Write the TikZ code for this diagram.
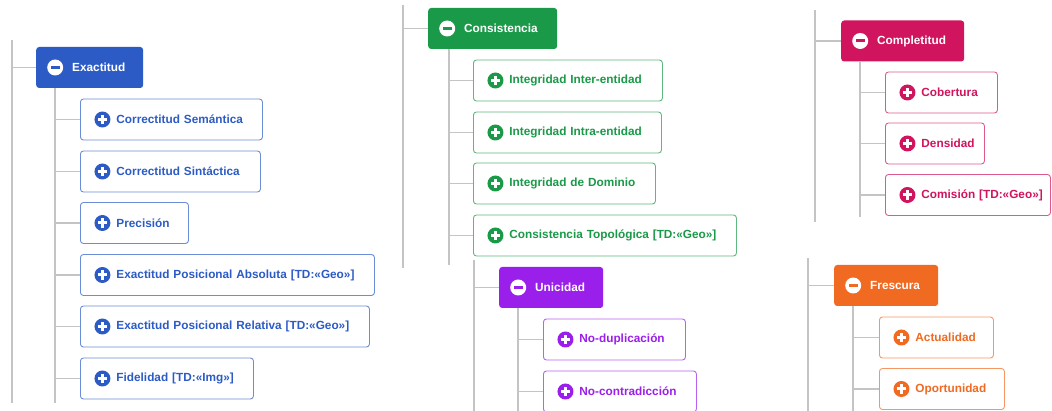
\documentclass[tikz,border=0pt]{standalone}
\usepackage{fontspec}
\setmainfont{Liberation Sans}
\usetikzlibrary{calc}
\definecolor{cB}{HTML}{2C5BC6}
\definecolor{cG}{HTML}{1A9A48}
\definecolor{cP}{HTML}{9B1FEA}
\definecolor{cM}{HTML}{D0145E}
\definecolor{cO}{HTML}{F06A22}
\definecolor{lineg}{HTML}{C4C4C4}
\tikzset{
  conn/.style={draw=lineg, line width=1.4pt},
  bw/.style={text width=#1},
  basebox/.style={rectangle, rounded corners=3pt, inner xsep=0pt, inner ysep=0pt,
    minimum height=41pt, align=left, anchor=west,
    font=\bfseries\fontsize{11.8}{14}\selectfont,
    execute at begin node={\hspace*{36pt}}},
  hdr/.style={basebox, fill=#1, text=white,
    path picture={
      \fill[white] ([xshift=19pt]path picture bounding box.west) circle (8pt);
      \fill[#1, sharp corners] ([xshift=14.5pt,yshift=-1.5pt]path picture bounding box.west)
        rectangle ([xshift=23.5pt,yshift=1.5pt]path picture bounding box.west);}},
  ch/.style={basebox, draw=#1!70, line width=0.9pt, fill=white, text=#1,
    path picture={
      \fill[#1] ([xshift=22pt]path picture bounding box.west) circle (8pt);
      \fill[white, sharp corners] ([xshift=17.3pt,yshift=-1.5pt]path picture bounding box.west)
        rectangle ([xshift=26.7pt,yshift=1.5pt]path picture bounding box.west);
      \fill[white, sharp corners] ([xshift=20.5pt,yshift=-4.7pt]path picture bounding box.west)
        rectangle ([xshift=23.5pt,yshift=4.7pt]path picture bounding box.west);}}
}
\begin{document}
\begin{tikzpicture}[x=1pt,y=-1pt]
\useasboundingbox (0,0) rectangle (1052,411);

% ---------------- Exactitud (blue)
\node[hdr=cB, bw=107pt] (hB) at (36,67.5) {Exactitud};
\node[ch=cB, bw=182pt] (b1) at (80,119.5) {Correctitud Semántica};
\node[ch=cB, bw=180pt] (b2) at (80,171.5) {Correctitud Sintáctica};
\node[ch=cB, bw=108pt] (b3) at (80,223) {Precisión};
\node[ch=cB, bw=294pt] (b4) at (80,275) {Exactitud Posicional Absoluta [TD:«Geo»]};
\node[ch=cB, bw=289pt] (b5) at (80,326.5) {Exactitud Posicional Relativa [TD:«Geo»]};
\node[ch=cB, bw=173pt] (b6) at (80,378.5) {Fidelidad [TD:«Img»]};
\coordinate (tB1) at (12,40);
\coordinate (tB2) at (12,403);
\coordinate (cB2) at (55,403);
\draw[conn] (tB1) -- (tB2);
\draw[conn] (hB.west -| tB1) -- (hB.west);
\draw[conn] (hB.south -| cB2) -- (cB2);
\foreach \n in {b1,b2,b3,b4,b5,b6} \draw[conn] (\n.west -| cB2) -- (\n.west);

% ---------------- Consistencia (green)
\node[hdr=cG, bw=129pt] (hG) at (428,28.5) {Consistencia};
\node[ch=cG, bw=189pt] (g1) at (473,80.5) {Integridad Inter-entidad};
\node[ch=cG, bw=188pt] (g2) at (473,132.5) {Integridad Intra-entidad};
\node[ch=cG, bw=182pt] (g3) at (473,183.5) {Integridad de Dominio};
\node[ch=cG, bw=263pt] (g4) at (473,235.5) {Consistencia Topológica [TD:«Geo»]};
\coordinate (tG1) at (403,5);
\coordinate (tG2) at (403,268);
\coordinate (cG2) at (449,265);
\draw[conn] (tG1) -- (tG2);
\draw[conn] (hG.west -| tG1) -- (hG.west);
\draw[conn] (hG.south -| cG2) -- (cG2);
\foreach \n in {g1,g2,g3,g4} \draw[conn] (\n.west -| cG2) -- (\n.west);

% ---------------- Unicidad (purple)
\node[hdr=cP, bw=104pt] (hP) at (499,287.5) {Unicidad};
\node[ch=cP, bw=142pt] (p1) at (543,339.5) {No-duplicación};
\node[ch=cP, bw=153pt] (p2) at (543,391.5) {No-contradicción};
\coordinate (tP1) at (474,260);
\coordinate (tP2) at (474,411);
\coordinate (cP2) at (518,411);
\draw[conn] (tP1) -- (tP2);
\draw[conn] (hP.west -| tP1) -- (hP.west);
\draw[conn] (hP.south -| cP2) -- (cP2);
\foreach \n in {p1,p2} \draw[conn] (\n.west -| cP2) -- (\n.west);

% ---------------- Completitud (magenta)
\node[hdr=cM, bw=123pt] (hM) at (841,41) {Completitud};
\node[ch=cM, bw=112pt] (m1) at (885,92.5) {Cobertura};
\node[ch=cM, bw=99pt] (m2) at (885,143.5) {Densidad};
\node[ch=cM, bw=165pt] (m3) at (885,195) {Comisión [TD:«Geo»]};
\coordinate (tM1) at (815,10);
\coordinate (tM2) at (815,222);
\coordinate (cM2) at (860,217);
\draw[conn] (tM1) -- (tM2);
\draw[conn] (hM.west -| tM1) -- (hM.west);
\draw[conn] (hM.south -| cM2) -- (cM2);
\foreach \n in {m1,m2,m3} \draw[conn] (\n.west -| cM2) -- (\n.west);

% ---------------- Frescura (orange)
\node[hdr=cO, bw=104pt] (hO) at (834,285.5) {Frescura};
\node[ch=cO, bw=114pt] (o1) at (879,337.5) {Actualidad};
\node[ch=cO, bw=125pt] (o2) at (879,389) {Oportunidad};
\coordinate (tO1) at (808,258);
\coordinate (tO2) at (808,411);
\coordinate (cO2) at (853,411);
\draw[conn] (tO1) -- (tO2);
\draw[conn] (hO.west -| tO1) -- (hO.west);
\draw[conn] (hO.south -| cO2) -- (cO2);
\foreach \n in {o1,o2} \draw[conn] (\n.west -| cO2) -- (\n.west);
\end{tikzpicture}
\end{document}
